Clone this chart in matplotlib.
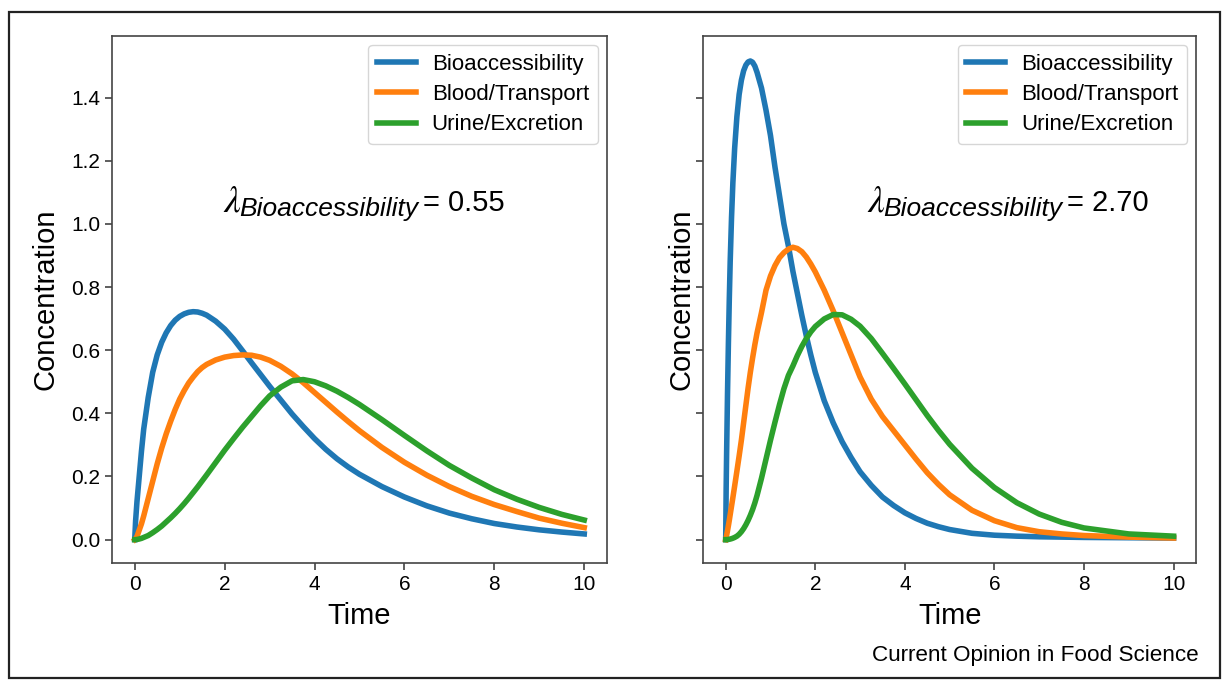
import matplotlib
matplotlib.use("Agg")
import matplotlib.pyplot as plt
from matplotlib.patches import Rectangle

# ----------------------------------------------------------------------
# values

series_names = ["Bioaccessibility", "Blood/Transport", "Urine/Excretion"]
series_colors = ["#1f77b4", "#ff7f0e", "#2ca02c"]

# left panel, lambda = 0.55
t_left = [0, 0.02, 0.05, 0.1, 0.15, 0.2, 0.3, 0.4, 0.5, 0.6, 0.7, 0.8, 0.9, 1.0, 1.1,
          1.2, 1.3, 1.4, 1.5, 1.6, 1.8, 2.0, 2.2, 2.4, 2.6, 2.8, 3.0, 3.25, 3.5, 3.75,
          4.0, 4.25, 4.5, 4.75, 5.0, 5.5, 6.0, 6.5, 7.0, 7.5, 8.0, 8.5, 9.0, 9.5, 10.0]
bio_left = [0, 0.06, 0.12, 0.2, 0.28, 0.35, 0.45, 0.53, 0.585, 0.625, 0.655, 0.678, 0.695,
            0.707, 0.715, 0.72, 0.722, 0.721, 0.717, 0.711, 0.692, 0.667, 0.635, 0.598,
            0.56, 0.523, 0.486, 0.442, 0.398, 0.358, 0.32, 0.286, 0.256, 0.23, 0.207,
            0.168, 0.135, 0.107, 0.084, 0.066, 0.051, 0.04, 0.031, 0.024, 0.018]
blood_left = [0, 0.003, 0.01, 0.03, 0.05, 0.075, 0.13, 0.185, 0.24, 0.29, 0.335, 0.375,
              0.412, 0.445, 0.472, 0.496, 0.515, 0.532, 0.545, 0.555, 0.569, 0.578, 0.583,
              0.585, 0.584, 0.578, 0.568, 0.549, 0.525, 0.497, 0.466, 0.435, 0.404, 0.374,
              0.345, 0.292, 0.245, 0.204, 0.168, 0.137, 0.111, 0.089, 0.068, 0.052, 0.038]
urine_left = [0, 0.0, 0.0005, 0.002, 0.004, 0.007, 0.013, 0.022, 0.032, 0.043, 0.056,
              0.069, 0.083, 0.098, 0.114, 0.131, 0.149, 0.167, 0.186, 0.205, 0.244, 0.283,
              0.32, 0.356, 0.39, 0.424, 0.455, 0.483, 0.503, 0.507, 0.5, 0.487, 0.47,
              0.45, 0.428, 0.38, 0.33, 0.281, 0.235, 0.195, 0.158, 0.128, 0.102, 0.08, 0.062]

# right panel, lambda = 2.70
t_right = [0, 0.01, 0.02, 0.04, 0.06, 0.08, 0.1, 0.13, 0.16, 0.2, 0.25, 0.3, 0.35, 0.4,
           0.45, 0.5, 0.55, 0.6, 0.65, 0.7, 0.8, 0.9, 1.0, 1.1, 1.2, 1.3, 1.4, 1.5, 1.6,
           1.7, 1.8, 1.9, 2.0, 2.2, 2.4, 2.6, 2.8, 3.0, 3.25, 3.5, 3.75, 4.0, 4.25, 4.5,
           4.75, 5.0, 5.5, 6.0, 6.5, 7.0, 7.5, 8.0, 9.0, 10.0]
bio_right = [0, 0.16, 0.27, 0.46, 0.62, 0.76, 0.88, 1.02, 1.13, 1.24, 1.34, 1.41, 1.455,
             1.485, 1.503, 1.513, 1.516, 1.512, 1.50, 1.48, 1.43, 1.36, 1.28, 1.18, 1.09,
             1.0, 0.93, 0.85, 0.78, 0.71, 0.645, 0.585, 0.53, 0.44, 0.37, 0.31, 0.26,
             0.215, 0.172, 0.135, 0.108, 0.085, 0.067, 0.052, 0.041, 0.032, 0.02, 0.014,
             0.011, 0.009, 0.008, 0.007, 0.006, 0.005]
blood_right = [0, 0.006, 0.013, 0.028, 0.044, 0.061, 0.079, 0.106, 0.133, 0.17, 0.217,
               0.265, 0.315, 0.37, 0.425, 0.48, 0.53, 0.575, 0.617, 0.655, 0.72, 0.79,
               0.835, 0.868, 0.893, 0.909, 0.92, 0.926, 0.922, 0.912, 0.895, 0.873, 0.848,
               0.79, 0.725, 0.655, 0.585, 0.515, 0.445, 0.39, 0.345, 0.30, 0.255, 0.212,
               0.175, 0.142, 0.093, 0.06, 0.038, 0.025, 0.018, 0.013, 0.008, 0.005]
urine_right = [0, 0.0, 0.0001, 0.0003, 0.0007, 0.0012, 0.0018, 0.003, 0.0045, 0.007,
               0.011, 0.017, 0.025, 0.035, 0.047, 0.061, 0.077, 0.095, 0.116, 0.14, 0.195,
               0.255, 0.315, 0.372, 0.427, 0.478, 0.52, 0.55, 0.583, 0.612, 0.637, 0.658,
               0.675, 0.699, 0.713, 0.712, 0.698, 0.676, 0.637, 0.59, 0.542, 0.493, 0.443,
               0.393, 0.346, 0.302, 0.226, 0.165, 0.117, 0.081, 0.055, 0.037, 0.018, 0.011]

lambda_labels = ["0.55", "2.70"]
x_ticks = [0, 2, 4, 6, 8, 10]
y_ticks = [0.0, 0.2, 0.4, 0.6, 0.8, 1.0, 1.2, 1.4]

# ----------------------------------------------------------------------

plt.rcParams["font.family"] = ["Liberation Sans", "DejaVu Sans"]

fig = plt.figure(figsize=(12.24, 6.8), dpi=100)
ax_l = fig.add_axes([0.0917, 0.1716, 0.4040, 0.7754])
ax_r = fig.add_axes([0.5746, 0.1716, 0.4025, 0.7754], sharey=ax_l)

# outer frame round the whole figure
fig.patches.append(Rectangle((0.0074, 0.003), 0.9893, 0.9794, transform=fig.transFigure,
                             fill=False, edgecolor="#222222", linewidth=1.6))

panels = [
    (ax_l, t_left, [bio_left, blood_left, urine_left], 1.975, 8.5),
    (ax_r, t_right, [bio_right, blood_right, urine_right], 3.17, 0.5),
]

for (ax, t, curves, text_x, ypad), lam in zip(panels, lambda_labels):
    for name, color, vals in zip(series_names, series_colors, curves):
        ax.plot(t, vals, color=color, linewidth=4.0, label=name)
    ax.set_xticks(x_ticks)
    ax.set_yticks(y_ticks)
    ax.set_xlim(-0.5, 10.5)
    ax.tick_params(labelsize=15, length=5, width=1.1, color="#333333")
    for sp in ax.spines.values():
        sp.set_color("#444444")
        sp.set_linewidth(1.2)
    ax.set_xlabel("Time", fontsize=21, labelpad=6)
    ax.set_ylabel("Concentration", fontsize=21, labelpad=ypad)
    ax.legend(loc="upper right", fontsize=16, handlelength=1.75, handletextpad=0.7,
              borderaxespad=0.4, labelspacing=0.42)

    # lambda, its subscript, then the value, chained left to right
    sym = ax.text(text_x, 1.04, "λ", fontsize=27, family="STIXGeneral",
                  style="italic", ha="left", va="baseline")
    sub = ax.annotate("Bioaccessibility", xy=(1, 1.04), xycoords=(sym, "data"),
                      xytext=(-1, -3.5), textcoords="offset points", fontsize=19,
                      style="italic", ha="left", va="baseline")
    ax.annotate("= " + lam, xy=(1, 1.04), xycoords=(sub, "data"), xytext=(3, 0),
                textcoords="offset points", fontsize=21, ha="left", va="baseline")

ax_l.set_ylim(-0.075, 1.595)
plt.setp(ax_r.get_yticklabels(), visible=False)

fig.text(0.9795, 0.028, "Current Opinion in Food Science", fontsize=16.2,
         ha="right", va="baseline")

fig.savefig("out.png", dpi=100)
